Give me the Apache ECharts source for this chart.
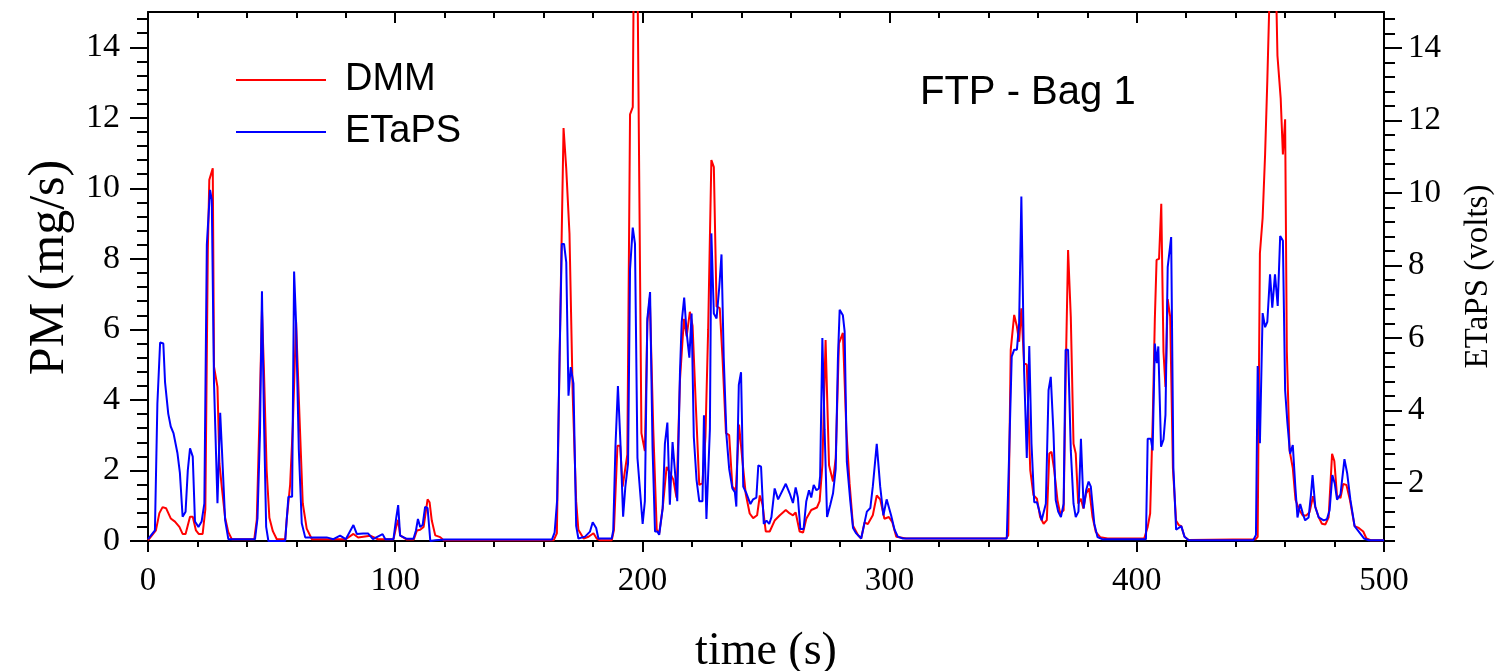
<!DOCTYPE html>
<html>
<head>
<meta charset="utf-8">
<script src="https://cdn.jsdelivr.net/npm/echarts@6/dist/echarts.min.js"></script>
<style>
  html, body { margin: 0; padding: 0; background: #fff; }
  #chart { width: 1499px; height: 671px; }
</style>
</head>
<body>
<div id="chart"></div>
<script>
// DMM particulate mass rate (mg/s), left axis
var dmmTime = [0, 3.2, 4.6, 5.9, 7.3, 9.2, 10.9, 12.7, 14, 15.2, 17, 18.1, 19.4, 20.5, 22.1, 23.2, 24.2, 24.8, 26.2, 26.7,
  28.1, 28.9, 29.9, 31.2, 32.5, 33.9, 43, 44, 45.1, 46.1, 46.9, 48, 49.1, 50.5, 52.1, 55.5, 56.1, 57.5, 58.6, 59.9,
  61.3, 62.6, 64.2, 66.3, 80, 83.1, 85, 89.9, 93, 99.3, 100.4, 101.2, 102, 104.7, 107.5, 108.8, 110.1, 111.5, 113.1, 113.9,
  114.8, 116.2, 118.2, 119.6, 164.1, 165.4, 166.5, 168.1, 169.2, 170.5, 171.8, 173.2, 174.1, 176.2, 178.2, 180.2, 181.5, 182.9, 187.6, 188.5,
  189.9, 191, 192, 193.9, 195, 196.1, 196.6, 197.9, 199.6, 201, 202, 203, 204.4, 205.8, 206.8, 208.2, 209.8, 211.1, 212.5, 213.8,
  215.2, 216.8, 217.9, 219.2, 220.3, 221.6, 223, 224.3, 225.5, 226.6, 227.9, 228.9, 230, 231.3, 232.4, 233.8, 235.1, 236.4, 237.8, 239.1,
  240.5, 241.8, 243.4, 244.8, 246.4, 247.5, 248.6, 249.9, 251.5, 253.5, 255.6, 258, 259.6, 260.9, 262, 263.6, 265, 266.3, 268.3, 270.6,
  271.7, 272.8, 274.1, 275.5, 277.1, 278.2, 279.5, 281.1, 282.5, 283.8, 285.2, 287.2, 288.5, 289.9, 291.2, 293.2, 294.8, 296.2, 297.9, 299.7,
  301.1, 302.7, 306.7, 347, 348, 349, 350.4, 351.5, 352.4, 353.3, 354.4, 355.5, 356.9, 358.2, 359.6, 360.9, 362.3, 363.6, 364.6, 365.5,
  366.6, 367.9, 369, 370.4, 371.3, 372.2, 373.3, 374.4, 375.3, 376.3, 377.4, 378.4, 379.5, 380.7, 382.1, 383.4, 385.2, 388.2, 403, 404.4,
  405.4, 406.5, 407.3, 408, 409, 409.9, 410.8, 411.6, 412.5, 413.5, 414.6, 415.9, 417, 418, 419.3, 421, 448, 448.9, 449.8, 450.9,
  451.9, 452.8, 453.6, 455, 456.4, 456.9, 458.2, 459.1, 460, 460.7, 461.8, 463.1, 464.2, 465.8, 467.2, 468.5, 469.9, 471.3, 472.2, 473.6,
  474.9, 476.3, 477.6, 479, 479.9, 481, 482.4, 483.5, 484.8, 486.2, 488.1, 489.8, 491.6, 492.9, 494.6, 500];
var dmmPM = [0.02, 0.3, 0.79, 0.96, 0.93, 0.64, 0.55, 0.4, 0.2, 0.2, 0.69, 0.69, 0.3, 0.2, 0.2, 0.9, 8.25, 10.24, 10.57, 4.94,
  4.37, 2.2, 1.5, 0.66, 0.25, 0.05, 0.05, 0.6, 3.5, 6.55, 4.85, 2.0, 0.66, 0.28, 0.05, 0.05, 0.6, 1.6, 3.3, 6.22,
  3.5, 1.07, 0.35, 0.05, 0.05, 0.2, 0.1, 0.15, 0.05, 0.05, 0.4, 0.6, 0.16, 0.04, 0.04, 0.3, 0.32, 0.4, 1.18, 1.1,
  0.58, 0.16, 0.11, 0.02, 0.02, 0.22, 5.2, 11.71, 10.55, 8.72, 4.17, 1.13, 0.32, 0.07, 0.12, 0.22, 0.07, 0.02, 0.02, 0.32,
  2.7, 2.7, 1.54, 2.45, 12.1, 12.3, 17, 17, 3.06, 2.55, 6.2, 6.9, 3.16, 0.32, 0.22, 0.93, 2.1, 1.94, 1.74, 1.23,
  4.57, 6.3, 5.8, 6.5, 6.1, 3.87, 1.59, 1.64, 2.95, 6.0, 10.8, 10.6, 6.65, 6.6, 5.2, 3.06, 3.0, 1.54, 1.44, 3.3,
  2.25, 1.34, 0.78, 0.65, 0.73, 1.29, 1.03, 0.27, 0.27, 0.58, 0.73, 0.88, 0.78, 0.73, 0.81, 0.27, 0.24, 0.63, 0.88, 0.95,
  1.13, 2.15, 5.7, 2.15, 1.69, 2.35, 5.6, 5.9, 3.16, 1.64, 0.43, 0.17, 0.07, 0.53, 0.48, 0.73, 1.29, 1.18, 0.63, 0.68,
  0.53, 0.12, 0.07, 0.07, 0.16, 5.42, 6.41, 6.08, 5.65, 6.6, 5.04, 5.0, 2.01, 1.3, 1.2, 0.68, 0.49, 0.59, 2.48, 2.53,
  2.01, 1.16, 0.78, 0.87, 4.94, 8.25, 6.35, 2.76, 2.48, 1.06, 1.2, 0.92, 1.35, 1.49, 0.68, 0.26, 0.11, 0.07, 0.07, 0.4,
  0.78, 3.6, 6.3, 7.97, 8.0, 9.56, 5.36, 4.37, 6.86, 6.36, 2.07, 0.57, 0.45, 0.42, 0.12, 0.03, 0.05, 0.12, 8.16, 9.16,
  10.96, 13.06, 15.2, 17, 15.5, 13.76, 12.56, 10.96, 11.96, 5.36, 2.57, 2.07, 1.17, 0.87, 0.72, 0.72, 0.82, 1.27, 0.97, 0.67,
  0.49, 0.47, 0.67, 2.47, 2.27, 1.27, 1.22, 1.62, 1.59, 1.17, 0.42, 0.37, 0.27, 0.07, 0.02, 0.02];

// ETaPS sensor signal (volts), right axis
var etapsTime = [0, 2.8, 3.8, 4.9, 6.2, 6.9, 8.2, 9.2, 10.3, 11.9, 12.9, 14, 15.2, 16.1, 17, 18.1, 19, 20.4, 21.7, 22.8,
  23.8, 25.1, 25.8, 26.7, 28.1, 29.2, 29.9, 31.2, 32.5, 43.3, 44.3, 45.3, 46.1, 46.9, 47.8, 48.7, 55.5, 56.1, 56.8, 58.3,
  59.1, 59.9, 61, 62.2, 63.6, 72.3, 75, 77.7, 80, 83.1, 84.5, 87, 89, 91, 94.9, 96, 99.3, 100.4, 101.2, 102,
  104.7, 107.4, 108.4, 109.2, 110.1, 111.1, 112.1, 113.1, 114.2, 116.2, 120, 163.4, 164.5, 165.5, 166.5, 167.4, 168.3, 169.2, 170.1, 171,
  172.1, 173.2, 174.1, 176.8, 178.8, 179.9, 181.3, 182.2, 187.6, 188.2, 189.1, 190.1, 191.1, 192.2, 193.1, 194.2, 195, 196.1, 197, 198,
  200.1, 201, 202, 203.1, 204.1, 205.1, 206, 206.8, 208.2, 209.1, 210.1, 211.1, 212.2, 213.2, 214.1, 215.2, 215.9, 216.9, 217.9, 219,
  219.9, 220.8, 221.9, 223, 224.3, 224.9, 225.9, 227.3, 227.9, 228.9, 230, 231.1, 232, 232.9, 234, 235.1, 236.4, 237.4, 238, 239,
  239.9, 240.8, 242.1, 243.7, 244.8, 246.1, 246.9, 248, 249.1, 250.2, 251.3, 252.2, 253.5, 254.9, 258, 259.6, 260.9, 262, 262.9, 263.9,
  265.2, 266.3, 267.4, 268.3, 269.3, 270.4, 271.4, 271.9, 272.8, 273.7, 274.7, 276, 277.1, 278.2, 279.1, 279.8, 281.1, 281.8, 282.7, 284.1,
  285.2, 286.5, 288.5, 289.9, 290.8, 292.2, 293.2, 294.8, 296.2, 297.5, 298.8, 300.6, 302, 303.3, 305.4, 346.3, 347.4, 348.4, 349.4, 350.4,
  351.5, 352.4, 353.3, 354.4, 355.5, 356.5, 357.4, 358.5, 359.6, 360.5, 361.5, 363.2, 364.3, 365.2, 366.3, 367.2, 368.2, 369.3, 370.4, 371.2,
  372.2, 373.3, 374.4, 375.3, 376.4, 377.4, 378.5, 379.5, 380.5, 381.4, 382.8, 384.1, 386, 402.3, 403.7, 404.4, 405.7, 406.4, 407.3, 408.1,
  408.7, 409.8, 410.8, 411.6, 412.5, 413.9, 414.8, 415.9, 418, 419.3, 421, 447.1, 448.2, 448.9, 449.8, 450.9, 451.9, 452.8, 453.9, 454.8,
  455.9, 457, 458, 459.1, 460, 460.9, 462, 463.1, 464.1, 465, 466.1, 467.2, 468.1, 469.5, 470.4, 471.1, 472.2, 473.6, 475.6, 476.9,
  478, 479.1, 480.1, 481, 482.4, 484, 485.1, 486.4, 488.1, 489.8, 491.9, 493.9, 500];
var etapsVolts = [0.45, 0.69, 4.2, 5.88, 5.85, 4.78, 3.91, 3.56, 3.38, 2.83, 2.28, 1.07, 1.21, 2.35, 2.96, 2.73, 0.94, 0.79, 0.94, 1.44,
  8.58, 10.09, 9.82, 4.76, 1.44, 3.94, 2.93, 0.98, 0.45, 0.45, 1.03, 3.38, 7.29, 3.81, 0.79, 0.4, 0.4, 0.98, 1.62, 1.62,
  7.84, 6.42, 2.93, 0.89, 0.5, 0.5, 0.45, 0.55, 0.45, 0.84, 0.59, 0.61, 0.61, 0.45, 0.59, 0.45, 0.45, 1.03, 1.39, 0.55,
  0.46, 0.46, 0.69, 1.01, 0.79, 0.84, 1.34, 1.31, 0.4, 0.42, 0.44, 0.44, 0.64, 1.52, 5.46, 8.6, 8.6, 8.09, 4.41, 5.2,
  4.75, 0.82, 0.47, 0.52, 0.66, 0.92, 0.76, 0.47, 0.47, 0.69, 3.0, 4.68, 3.13, 1.07, 1.9, 2.54, 7.9, 9.05, 8.6, 2.69,
  0.87, 1.5, 6.54, 7.27, 2.98, 0.66, 0.66, 0.57, 1.31, 3.08, 3.67, 1.4, 3.13, 2.29, 1.5, 5.06, 6.44, 7.12, 6.15, 5.46,
  6.68, 3.27, 2.09, 1.5, 1.5, 3.87, 1.01, 3.48, 8.89, 6.68, 6.54, 7.41, 8.31, 5.46, 3.32, 2.39, 1.85, 1.75, 1.35, 4.71,
  5.06, 1.9, 1.71, 1.42, 1.55, 1.6, 2.49, 2.45, 0.87, 0.96, 0.87, 1.06, 1.85, 1.55, 1.98, 1.71, 1.45, 1.88, 1.6, 0.73,
  0.73, 1.5, 1.8, 1.6, 1.95, 1.8, 1.85, 2.19, 6.0, 3.48, 1.06, 1.4, 1.71, 2.39, 5.45, 6.78, 6.63, 6.19, 2.59, 1.5,
  0.76, 0.61, 0.47, 0.92, 1.21, 1.31, 1.9, 3.08, 1.9, 1.11, 1.55, 1.11, 0.71, 0.52, 0.47, 0.47, 0.47, 2.9, 5.49, 5.68,
  5.68, 6.41, 9.91, 5.12, 2.69, 5.78, 3.09, 1.47, 1.47, 1.25, 0.97, 1.43, 4.56, 4.93, 3.37, 1.53, 1.21, 1.06, 1.43, 5.68,
  5.68, 2.9, 1.43, 1.06, 1.21, 3.22, 1.3, 1.8, 2.04, 1.9, 0.88, 0.51, 0.45, 0.45, 0.45, 3.22, 3.22, 2.9, 5.85, 5.31,
  5.77, 3.0, 3.2, 3.88, 7.96, 8.79, 2.42, 0.71, 0.81, 0.52, 0.42, 0.42, 0.57, 5.23, 3.1, 6.69, 6.3, 6.45, 7.76, 6.84,
  7.76, 6.89, 8.82, 8.69, 4.56, 3.68, 2.81, 3.05, 1.93, 1.05, 1.42, 1.15, 0.97, 1.05, 1.64, 2.22, 1.34, 1.05, 0.97, 1.0,
  1.25, 2.22, 1.98, 1.54, 1.69, 2.66, 2.27, 1.54, 0.81, 0.66, 0.47, 0.42, 0.42];

// tick positions
var pmTicks = [0, 2, 4, 6, 8, 10, 12, 14];
var voltTicks = [2, 4, 6, 8, 10, 12, 14];

var serif = 'Liberation Serif';
var sans = 'Liberation Sans';

// minor ticks every 0.4 on both value axes
var pmMinor = [], voltMinor = [];
for (var k = 1; k <= 37; k++) {
  pmMinor.push(+(k * 0.4).toFixed(1));
  voltMinor.push(+(k * 0.4).toFixed(1));
}

var dmmData = dmmTime.map(function (t, i) { return [t, dmmPM[i]]; });
var etapsData = etapsTime.map(function (t, i) { return [t, etapsVolts[i]]; });

var black = { color: '#000', width: 2 };
var noZero = { show: true, onZero: false, lineStyle: black };
var hiddenLine = { show: false, onZero: false };

var chart = echarts.init(document.getElementById('chart'), null, { renderer: 'canvas' });

var option = {
  animation: false,
  backgroundColor: '#fff',
  title: {
    text: 'FTP - Bag 1',
    left: 915,
    top: 68,
    textStyle: { fontFamily: sans, fontSize: 40, fontWeight: 'normal', color: '#000' }
  },
  legend: {
    orient: 'vertical',
    left: 236,
    top: 61,
    padding: 0,
    itemWidth: 90,
    itemHeight: 2,
    itemGap: 14,
    icon: 'rect',
    textStyle: { fontFamily: sans, fontSize: 38, color: '#000', padding: [0, 0, 0, 14] },
    data: ['DMM', 'ETaPS']
  },
  grid: { left: 148, right: 115, top: 12, bottom: 130, outerBoundsMode: 'none' },
  xAxis: [{
    type: 'value', min: 0, max: 500, interval: 100, position: 'bottom',
    axisLine: noZero,
    axisTick: { show: true, length: 11, lineStyle: black },
    minorTick: { show: true, splitNumber: 5, length: 6, lineStyle: black },
    splitLine: { show: false },
    axisLabel: { fontFamily: serif, fontSize: 33, color: '#000', margin: 24 },
    name: 'time (s)', nameLocation: 'middle', nameGap: 88,
    nameTextStyle: { fontFamily: serif, fontSize: 46, color: '#000' }
  }, {
    type: 'value', min: 0, max: 500, interval: 100, position: 'top',
    axisLine: noZero,
    axisTick: { show: true, inside: true, length: 11, lineStyle: black },
    minorTick: { show: true, splitNumber: 5, length: 6, lineStyle: black },
    splitLine: { show: false },
    axisLabel: { show: false }
  }],
  yAxis: [{
    type: 'value', min: 0, max: 15, interval: 2, position: 'left',
    axisLine: noZero,
    axisTick: { show: true, length: 18, lineStyle: black, customValues: pmTicks },
    splitLine: { show: false },
    axisLabel: { fontFamily: serif, fontSize: 34, color: '#000', margin: 28, customValues: pmTicks },
    name: 'PM (mg/s)', nameLocation: 'middle', nameRotate: 90, nameGap: 72,
    nameTextStyle: { fontFamily: serif, fontSize: 50, color: '#000', padding: [0, 0, 0, 18] }
  }, {
    type: 'value', min: 0.4, max: 15, position: 'right',
    axisLine: noZero,
    axisTick: { show: true, length: 18, lineStyle: black, customValues: voltTicks },
    splitLine: { show: false },
    axisLabel: { fontFamily: serif, fontSize: 33, color: '#000', margin: 24, customValues: voltTicks },
    name: 'ETaPS (volts)', nameLocation: 'middle', nameRotate: 90, nameGap: 78,
    nameTextStyle: { fontFamily: serif, fontSize: 33, color: '#000' }
  }, {
    type: 'value', min: 0, max: 15, position: 'left',
    axisLine: hiddenLine,
    axisTick: { show: true, length: 11, lineStyle: black, customValues: pmMinor },
    splitLine: { show: false },
    axisLabel: { show: false }
  }, {
    type: 'value', min: 0.4, max: 15, position: 'right',
    axisLine: hiddenLine,
    axisTick: { show: true, length: 11, lineStyle: black, customValues: voltMinor },
    splitLine: { show: false },
    axisLabel: { show: false }
  }],
  series: [{
    name: 'DMM', type: 'line', xAxisIndex: 0, yAxisIndex: 0,
    data: dmmData, showSymbol: false, symbol: 'none', clip: true,
    lineStyle: { color: '#ff0000', width: 2 }, itemStyle: { color: '#ff0000' }
  }, {
    name: 'ETaPS', type: 'line', xAxisIndex: 0, yAxisIndex: 1,
    data: etapsData, showSymbol: false, symbol: 'none', clip: true,
    lineStyle: { color: '#0000ff', width: 2 }, itemStyle: { color: '#0000ff' }
  }]
};

chart.setOption(option);
</script>
</body>
</html>
